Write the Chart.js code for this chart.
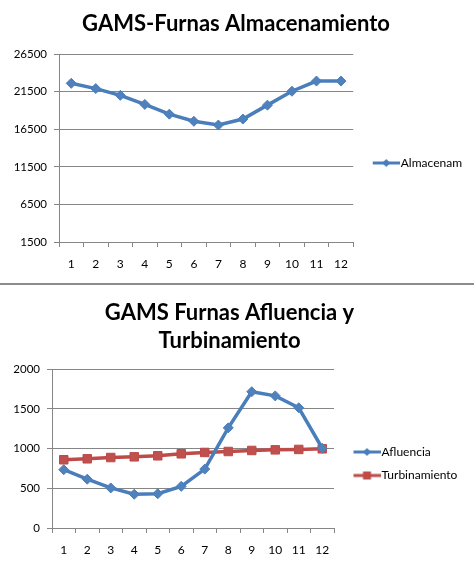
<!DOCTYPE html>
<html>
<head>
<meta charset="utf-8">
<script src="https://cdn.jsdelivr.net/npm/chart.js@4/dist/chart.umd.min.js"></script>
<style>
    html, body { margin: 0; padding: 0; background: #fff; overflow: hidden; }
    #wrap { position: relative; width: 474px; height: 567px; }
    canvas { position: absolute; left: 0; }
    #almChart { top: 0; }
    #sep { position: absolute; left: 0; top: 283px; width: 474px; height: 2px; background: #8c8c8c; }
    #aflChart { top: 285px; }
</style>
</head>
<body>
<div id="wrap">
    <canvas id="almChart" width="474" height="283"></canvas>
    <div id="sep"></div>
    <canvas id="aflChart" width="474" height="282"></canvas>
</div>
<script>
const meses = ['1', '2', '3', '4', '5', '6', '7', '8', '9', '10', '11', '12']
const almacenamiento = [22600, 21900, 21000, 19800, 18500, 17550, 17050, 17850, 19700, 21550, 22900, 22900]
const afluencia = [735, 615, 505, 425, 432, 525, 742, 1262, 1718, 1665, 1515, 1005]
const turbinamiento = [860, 872, 888, 897, 910, 935, 952, 964, 977, 985, 990, 998]

const azul = '#4a7ebb'
const rojo = '#be4b48'
const gris = '#868686'

Chart.defaults.font.family = 'Lato'
Chart.defaults.color = '#000'

// little line + marker pictures for the legend
function legendIcon(color, style) {
    const c = document.createElement('canvas')
    c.width = 40
    c.height = 12
    const g = c.getContext('2d')
    g.strokeStyle = color
    g.lineWidth = 3
    g.beginPath()
    g.moveTo(13, 6)
    g.lineTo(40, 6)
    g.stroke()
    g.fillStyle = color
    g.beginPath()
    if (style === 'diamond') {
        g.moveTo(26.5, 2)
        g.lineTo(30.5, 6)
        g.lineTo(26.5, 10)
        g.lineTo(22.5, 6)
    } else {
        g.rect(22.5, 2, 8, 8)
    }
    g.fill()
    return c
}

function legendOptions(icons, titleTop, maxWidth) {
    return {
        position: 'right',
        align: 'start',
        maxWidth: maxWidth,
        title: { display: true, text: '', font: { size: 10 }, padding: { top: titleTop, bottom: 0 } },
        labels: {
            usePointStyle: true,
            pointStyleWidth: 30,
            padding: 11.5,
            font: { size: 12 },
            color: '#000',
            generateLabels: (chart) =>
                Chart.defaults.plugins.legend.labels.generateLabels(chart).map((item, i) => ({
                    ...item,
                    pointStyle: icons[i],
                })),
        },
    }
}

function xAxis(height) {
    return {
        offset: true,
        grid: { drawOnChartArea: false, offset: true, tickLength: 5, color: gris },
        border: { color: gris, width: 1 },
        ticks: { padding: 10, font: { size: 12 } },
        afterFit: (scale) => { scale.height = height },
    }
}

function yAxis(min, max, step, width) {
    return {
        min: min,
        max: max,
        grid: { color: gris, tickLength: 5 },
        border: { color: gris, width: 1 },
        ticks: { stepSize: step, padding: 7, font: { size: 11.5 }, callback: (v) => String(v) },
        afterFit: (scale) => { scale.width = width },
    }
}

const tituloFont = { size: 22, weight: 'bold', lineHeight: '28px' }

new Chart(document.querySelector('#almChart'), {
    type: 'line',
    data: {
        labels: meses,
        datasets: [
            {
                label: 'Almacenam',
                data: almacenamiento,
                borderColor: azul,
                backgroundColor: '#4f81bd',
                borderWidth: 3.5,
                pointStyle: 'rectRot',
                pointRadius: 5,
                pointBorderWidth: 1,
                tension: 0,
            },
        ],
    },
    options: {
        responsive: false,
        animation: false,
        layout: { padding: { right: 2 } },
        plugins: {
            title: {
                display: true,
                text: 'GAMS-Furnas Almacenamiento',
                font: tituloFont,
                color: '#000',
                padding: { top: 10, bottom: 16 },
            },
            legend: legendOptions([legendIcon(azul, 'diamond')], 133.5, 122),
            tooltip: { enabled: false },
        },
        scales: {
            x: xAxis(41),
            y: yAxis(1500, 26500, 5000, 59),
        },
    },
})

new Chart(document.querySelector('#aflChart'), {
    type: 'line',
    data: {
        labels: meses,
        datasets: [
            {
                label: 'Afluencia',
                data: afluencia,
                borderColor: azul,
                backgroundColor: '#4f81bd',
                borderWidth: 3.5,
                pointStyle: 'rectRot',
                pointRadius: 5,
                pointBorderWidth: 1,
                tension: 0,
            },
            {
                label: 'Turbinamiento',
                data: turbinamiento,
                borderColor: rojo,
                backgroundColor: '#c0504d',
                borderWidth: 3.5,
                pointStyle: 'rect',
                pointRadius: 6,
                pointBorderWidth: 1,
                tension: 0,
            },
        ],
    },
    options: {
        responsive: false,
        animation: false,
        layout: { padding: { right: 15 } },
        plugins: {
            title: {
                display: true,
                text: ['GAMS Furnas Afluencia y', 'Turbinamiento'],
                font: tituloFont,
                color: '#000',
                padding: { top: 14, bottom: 14.3 },
            },
            legend: legendOptions([legendIcon(azul, 'diamond'), legendIcon(rojo, 'square')], 137.5, 125),
            tooltip: { enabled: false },
        },
        scales: {
            x: xAxis(39),
            y: yAxis(0, 2000, 500, 52),
        },
    },
})
</script>
</body>
</html>
